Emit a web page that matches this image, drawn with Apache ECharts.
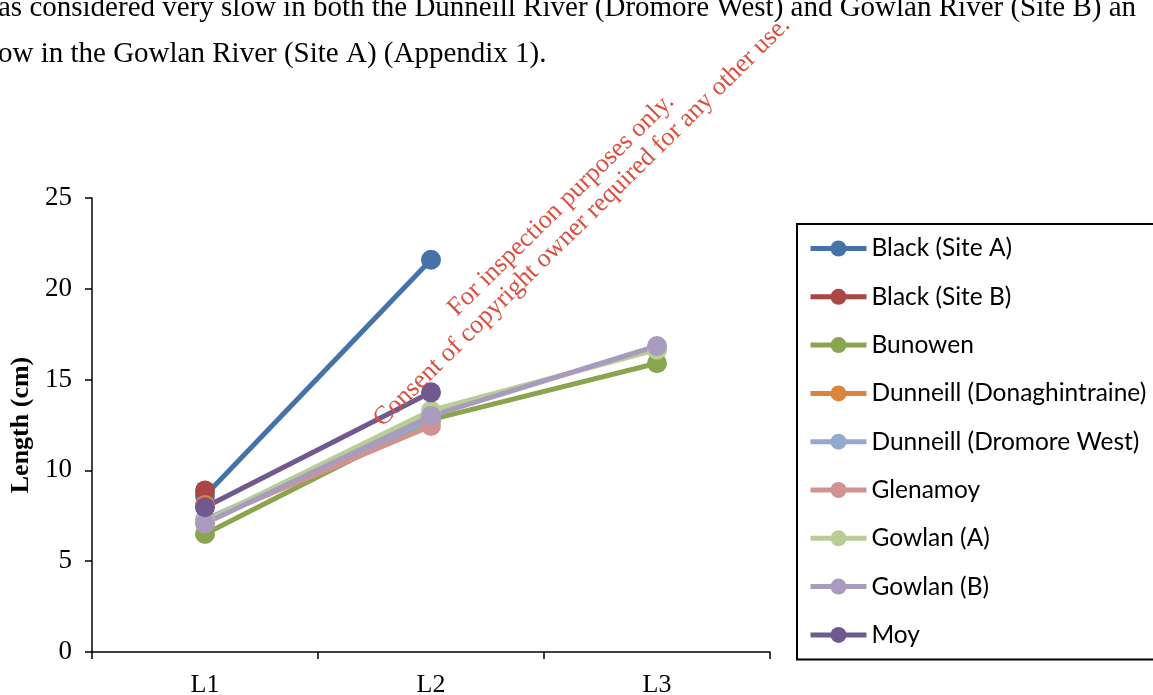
<!DOCTYPE html>
<html>
<head>
<meta charset="utf-8">
<script src="https://cdn.jsdelivr.net/npm/echarts@6/dist/echarts.min.js"></script>
<style>
html,body{margin:0;padding:0;background:#fff;}
#chart{width:1153px;height:695px;}
</style>
</head>
<body>
<div id="chart"></div>
<script>
const categories = ['L1', 'L2', 'L3'];
const seriesNames = ['Black (Site A)', 'Black (Site B)', 'Bunowen', 'Dunneill (Donaghintraine)',
  'Dunneill (Dromore West)', 'Glenamoy', 'Gowlan (A)', 'Gowlan (B)', 'Moy'];
const blackA = [8.6, 21.6, null];
const blackB = [8.9, null, null];
const bunowen = [6.5, 12.8, 15.9];
const dunDonaghintraine = [8.1, null, null];
const dunDromoreWest = [7.3, 12.8, null];
const glenamoy = [7.2, 12.45, null];
const gowlanA = [7.2, 13.3, 16.65];
const gowlanB = [7.08, 13.0, 16.85];
const moy = [7.97, 14.3, null];
const yTicks = { min: 0, max: 25, interval: 5 };
const topLine1 = 'as considered very slow in both the Dunneill River (Dromore West) and Gowlan River (Site B) an';
const topLine2 = 'ow in the Gowlan River (Site A) (Appendix 1).';
const watermark1 = 'For inspection purposes only.';
const watermark2 = 'Consent of copyright owner required for any other use.';

const allData = [blackA, blackB, bunowen, dunDonaghintraine, dunDromoreWest, glenamoy, gowlanA, gowlanB, moy];
const colors = ['#4672AA', '#AA4643', '#89A54E', '#DB843D', '#93A9CF', '#D19392', '#B9CD96', '#A99BBD', '#71588F'];

const serif = '"Liberation Serif", "Times New Roman", serif';
const chart = echarts.init(document.getElementById('chart'), null, { renderer: 'canvas' });

const series = allData.map((d, i) => ({
  name: seriesNames[i],
  type: 'line',
  data: d,
  symbol: 'circle',
  symbolSize: 20,
  showSymbol: true,
  showAllSymbol: true,
  connectNulls: false,
  animation: false,
  lineStyle: { width: 5, color: colors[i] },
  itemStyle: { color: colors[i] },
  emphasis: { disabled: true }
}));

chart.setOption({
  animation: false,
  color: colors,
  grid: { left: 92, right: 383, top: 198, bottom: 43, containLabel: false, outerBoundsMode: 'none' },
  xAxis: {
    type: 'category',
    data: categories,
    boundaryGap: true,
    axisLine: { lineStyle: { color: '#000', width: 1.5 } },
    axisTick: { show: true, length: 7, lineStyle: { color: '#000', width: 1.5 } },
    axisLabel: { color: '#000', fontFamily: serif, fontSize: 26, margin: 20 },
    splitLine: { show: false }
  },
  yAxis: {
    type: 'value',
    min: yTicks.min, max: yTicks.max, interval: yTicks.interval,
    name: 'Length (cm)',
    nameLocation: 'middle',
    nameGap: 56,
    nameRotate: 90,
    nameTextStyle: { color: '#000', fontFamily: serif, fontSize: 26, fontWeight: 'bold' },
    axisLine: { show: true, lineStyle: { color: '#000', width: 1.5 } },
    axisTick: { show: true, length: 7, lineStyle: { color: '#000', width: 1.5 } },
    axisLabel: { color: '#000', fontFamily: serif, fontSize: 27, margin: 20 },
    splitLine: { show: false }
  },
  legend: {
    orient: 'vertical',
    left: 797,
    top: 224,
    padding: [12, 40, 12, 11],
    borderColor: '#000',
    borderWidth: 2,
    itemWidth: 56,
    itemHeight: 20,
    itemGap: 23.3,
    lineStyle: { width: 5 },
    textStyle: { color: '#000', fontFamily: 'Lato, "Open Sans", sans-serif', fontSize: 24.5, lineHeight: 24 },
    data: seriesNames
  },
  graphic: [
    { type: 'text', x: -2, y: 23, silent: true,
      style: { text: topLine1, fill: '#000', font: '29px ' + serif, textAlign: 'left', textVerticalAlign: 'bottom' } },
    { type: 'text', x: -2, y: 69, silent: true,
      style: { text: topLine2, fill: '#000', font: '29px ' + serif, textAlign: 'left', textVerticalAlign: 'bottom' } },
    { type: 'text', x: 561, y: 205, rotation: 0.7767, silent: true, z: 100,
      style: { text: watermark1, fill: '#D9503F', font: '26px ' + serif, textAlign: 'center', textVerticalAlign: 'middle' } },
    { type: 'text', x: 582, y: 222, rotation: 0.7767, silent: true, z: 100,
      style: { text: watermark2, fill: '#D9503F', font: '26px ' + serif, textAlign: 'center', textVerticalAlign: 'middle' } }
  ],
  series: series
});
</script>
</body>
</html>
